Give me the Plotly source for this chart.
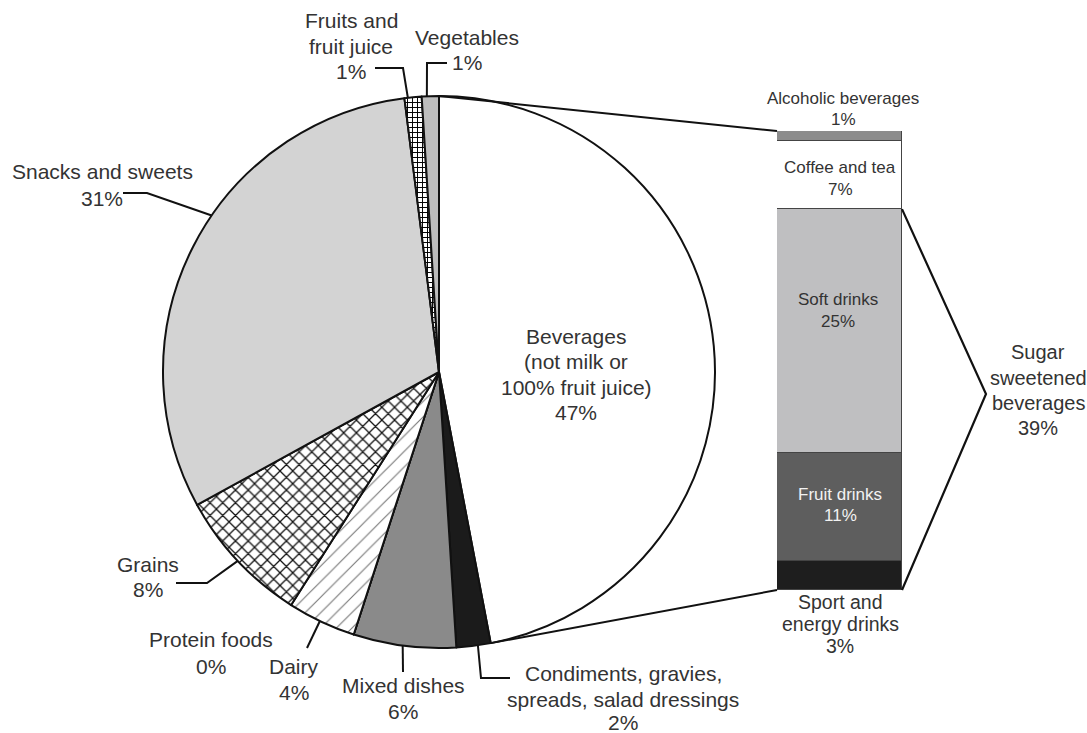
import math
import plotly.graph_objects as go

W, H = 1087, 733

# ---------------- data ----------------
pie_labels = ["Beverages (not milk or 100% fruit juice)",
              "Condiments, gravies, spreads, salad dressings",
              "Mixed dishes", "Protein foods", "Dairy", "Grains",
              "Snacks and sweets", "Fruits and fruit juice", "Vegetables"]
pie_values = [47, 2, 6, 0, 4, 8, 31, 1, 1]

bar_labels = ["Sport and energy drinks", "Fruit drinks", "Soft drinks",
              "Coffee and tea", "Alcoholic beverages"]
bar_values = [3, 11, 25, 7, 1]
ssb_total = 39  # sugar sweetened beverages

# ---------------- styles / layout constants ----------------
FONT = "Liberation Sans, Arial, sans-serif"
TXT = "#333333"
pie_colors = ["#ffffff", "#1b1b1b", "#8a8a8a", "#bdbdbd", "#ffffff", "#ffffff",
              "#d3d3d3", "#ffffff", "#bdbdbd"]
pie_shapes = ["", "", "", "", "/", "x", "", "+", ""]
pie_fg = ["#000", "#000", "#000", "#000", "#777777", "#111111", "#000", "#000000", "#000"]
bar_colors = ["#1e1e1e", "#5e5e5e", "#bfbfc1", "#ffffff", "#8c8c8c"]

CX, CY, R = 439, 372, 276
BX0, BX1, BTOP, BBOT = 777, 902, 131, 590


def P(px, py):
    return px / W, 1 - py / H


def edge(pct):
    a = math.radians(pct / 100 * 360)
    return CX + R * math.sin(a), CY - R * math.cos(a)


bar_total = sum(bar_values)


def bar_y(v):
    return BBOT - v / bar_total * (BBOT - BTOP)


fig = go.Figure()

fig.add_trace(go.Pie(
    labels=pie_labels, values=pie_values, sort=False, direction="clockwise",
    rotation=0, textinfo="none", hoverinfo="label+percent", showlegend=False,
    domain=dict(x=[(CX - R) / W, (CX + R) / W], y=[1 - (CY + R) / H, 1 - (CY - R) / H]),
    marker=dict(colors=pie_colors, line=dict(color="#111111", width=2),
                pattern=dict(shape=pie_shapes, fgcolor=pie_fg,
                             size=[8, 8, 8, 8, 11, 9, 8, 5, 8],
                             solidity=[0.2, 0.2, 0.2, 0.2, 0.1, 0.26, 0.2, 0.35, 0.2])),
))

for lab, v, c in zip(bar_labels, bar_values, bar_colors):
    fig.add_trace(go.Bar(x=[0], y=[v], width=1, name=lab, showlegend=False,
                         marker=dict(color=c, line=dict(color="#444444", width=1.5)),
                         hoverinfo="name+y"))

shapes = []


def path(points, width=2):
    d = ""
    for i, (px, py) in enumerate(points):
        x, y = P(px, py)
        d += ("M" if i == 0 else "L") + f"{x:.5f},{y:.5f} "
    shapes.append(dict(type="path", xref="paper", yref="paper", path=d.strip(),
                       line=dict(color="#111111", width=width)))


# connectors pie -> bar
path([edge(0), (BX0, bar_y(bar_total))], 2)
path([edge(pie_values[0]), (BX0, bar_y(0))], 2)
# bracket for sugar sweetened beverages
path([(BX1, bar_y(ssb_total)), (986, 394), (BX1, bar_y(0))], 2.2)

# leader lines (anchor percentage on pie edge, then elbows)
leaders = [
    (98.2, [(403, 68), (375, 68)]),
    (99.3, [(427, 63), (447, 63)]),
    (84.6, [(147, 193), (123, 193)]),
    (63.0, [(207, 583), (176, 583)]),
    (57.1, [(307, 648)]),
    (52.1, [(403, 672)]),
    (47.75, [(481, 678), (510, 678)]),
]
for pct, pts in leaders:
    path([edge(pct)] + pts, 2)

annotations = []


def lab(lines, x, ys, size=21, color=TXT):
    for t, y in zip(lines, ys):
        xp, yp = P(x, y)
        annotations.append(dict(text=t, x=xp, y=yp, xref="paper", yref="paper",
                                xanchor="center", yanchor="middle", showarrow=False,
                                font=dict(family=FONT, size=size, color=color)))


lab(["Fruits and", "fruit juice", f"{pie_values[7]}%"], 351, [21, 46, 72])
lab(["Vegetables", f"{pie_values[8]}%"], 467, [37, 63])
lab(["Snacks and sweets", f"{pie_values[6]}%"], 102, [171, 199])
lab(["Grains", f"{pie_values[5]}%"], 148, [564, 589])
lab(["Protein foods", f"{pie_values[3]}%"], 211, [639, 666])
lab(["Dairy", f"{pie_values[4]}%"], 294, [666, 692])
lab(["Mixed dishes", f"{pie_values[2]}%"], 403, [685, 711])
lab(["Condiments, gravies,", "spreads, salad dressings", f"{pie_values[1]}%"], 623, [673, 699, 722])
lab(["Beverages", "(not milk or", "100% fruit juice)", f"{pie_values[0]}%"], 576, [336, 361, 387, 412])
lab(["Sugar", "sweetened", "beverages", f"{ssb_total}%"], 1038, [352, 378, 403, 428], size=20)

lab(["Alcoholic beverages", f"{bar_values[4]}%"], 843, [99, 119], size=17)
lab(["Coffee and tea", f"{bar_values[3]}%"], 840, [167, 189], size=17)
lab(["Soft drinks", f"{bar_values[2]}%"], 838, [299, 321], size=17)
lab(["Fruit drinks", f"{bar_values[1]}%"], 840, [494, 515], size=17, color="#f2f2f2")
lab(["Sport and", "energy drinks", f"{bar_values[0]}%"], 840, [602, 624, 646], size=19.5)

fig.update_layout(
    width=W, height=H, margin=dict(l=0, r=0, t=0, b=0),
    paper_bgcolor="white", plot_bgcolor="white",
    barmode="stack", bargap=0,
    xaxis=dict(domain=[BX0 / W, BX1 / W], range=[-0.5, 0.5], visible=False, fixedrange=True),
    yaxis=dict(domain=[1 - BBOT / H, 1 - BTOP / H], range=[0, bar_total], visible=False, fixedrange=True),
    shapes=shapes, annotations=annotations,
)

fig.write_html("out.html", config={"displayModeBar": False},
               post_script="document.body.style.margin='0';document.body.style.overflow='hidden';")
